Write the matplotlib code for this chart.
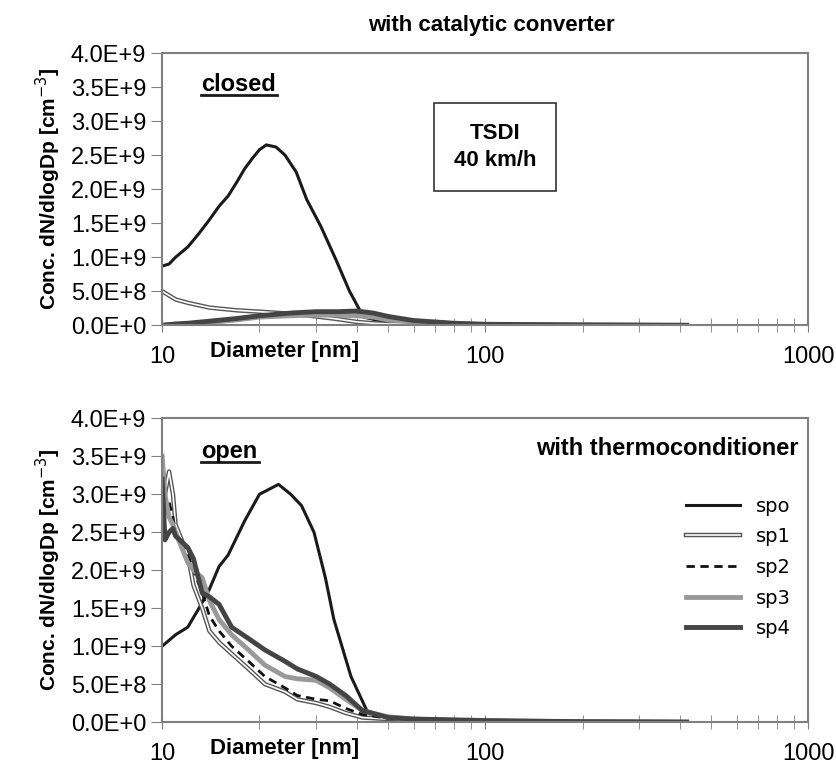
import matplotlib.pyplot as plt
from matplotlib.lines import Line2D

plt.rcParams["font.family"] = ["Liberation Sans", "DejaVu Sans"]

# ---- closed (top) ----
d_spo_top = [10, 10.5, 11, 12, 13, 14, 15, 16, 17, 18, 19, 20, 21, 22, 22.5, 24, 26, 28, 31, 34.6, 38, 42, 50, 70, 100, 200, 420]
v_spo_top = [0.87, 0.9, 1.0, 1.15, 1.35, 1.55, 1.75, 1.9, 2.1, 2.3, 2.45, 2.58, 2.65, 2.63, 2.62, 2.5, 2.25, 1.85, 1.45, 0.95, 0.5, 0.12, 0.04, 0.02, 0.01, 0.005, 0.0]
d_top = [10, 11, 12, 14, 17, 20, 25, 30, 35, 40, 45, 50, 60, 80, 100, 200, 420]
v_sp1_top = [0.5, 0.38, 0.33, 0.26, 0.22, 0.2, 0.17, 0.13, 0.09, 0.05, 0.03, 0.02, 0.015, 0.01, 0.008, 0.004, 0.0]
v_sp2_top = [0.0, 0.01, 0.03, 0.05, 0.1, 0.14, 0.16, 0.17, 0.17, 0.16, 0.13, 0.09, 0.05, 0.02, 0.01, 0.005, 0.0]
v_sp3_top = [0.0, 0.01, 0.02, 0.04, 0.08, 0.12, 0.14, 0.15, 0.15, 0.14, 0.12, 0.08, 0.05, 0.02, 0.01, 0.005, 0.0]
v_sp4_top = [0.0, 0.02, 0.03, 0.06, 0.1, 0.14, 0.18, 0.2, 0.2, 0.21, 0.18, 0.13, 0.07, 0.03, 0.015, 0.005, 0.0]

# ---- open (bottom) ----
d_spo_bot = [10, 11, 12, 13, 14, 15, 16, 18, 20, 22.9, 25, 27, 29.5, 32, 34, 38.4, 43, 50, 70, 100, 200, 420]
v_spo_bot = [1.0, 1.15, 1.25, 1.5, 1.75, 2.05, 2.2, 2.65, 3.0, 3.13, 3.0, 2.85, 2.5, 1.9, 1.35, 0.6, 0.15, 0.06, 0.03, 0.02, 0.01, 0.0]
d_bot = [10, 10.2, 10.5, 10.8, 11, 12, 12.5, 13.3, 14, 15, 16.4, 18.5, 20.8, 24, 26.2, 30, 33, 37, 41.7, 50, 60, 80, 100, 200, 420]
v_sp1_bot = [3.3, 3.0, 3.3, 3.0, 2.6, 2.2, 1.8, 1.5, 1.2, 1.05, 0.9, 0.7, 0.5, 0.4, 0.3, 0.25, 0.2, 0.12, 0.06, 0.04, 0.03, 0.02, 0.015, 0.005, 0.0]
v_sp2_bot = [3.2, 2.9, 2.9, 2.7, 2.5, 2.2, 2.0, 1.7, 1.4, 1.2, 1.0, 0.8, 0.6, 0.45, 0.35, 0.3, 0.28, 0.18, 0.1, 0.05, 0.03, 0.02, 0.015, 0.005, 0.0]
v_sp3_bot = [3.5, 3.0, 2.7, 2.6, 2.5, 2.1, 2.0, 1.9, 1.6, 1.35, 1.15, 0.95, 0.75, 0.6, 0.57, 0.55, 0.45, 0.3, 0.15, 0.07, 0.04, 0.02, 0.015, 0.005, 0.0]
v_sp4_bot = [3.2, 2.4, 2.5, 2.55, 2.45, 2.3, 2.15, 1.7, 1.65, 1.55, 1.25, 1.1, 0.95, 0.8, 0.7, 0.6, 0.5, 0.35, 0.15, 0.06, 0.04, 0.03, 0.02, 0.005, 0.0]

yticks = [0, 0.5, 1.0, 1.5, 2.0, 2.5, 3.0, 3.5, 4.0]
ytick_labels = ["0.0E+0", "5.0E+8", "1.0E+9", "1.5E+9", "2.0E+9", "2.5E+9", "3.0E+9", "3.5E+9", "4.0E+9"]

fig = plt.figure(figsize=(8.36, 7.69), dpi=100)
ax1 = fig.add_axes([0.194, 0.577, 0.773, 0.354])
ax2 = fig.add_axes([0.194, 0.061, 0.773, 0.395])

grey = "#808080"


def draw(ax, spo, sp1, sp2, sp3, sp4, label_y):
    ax.plot(*spo, color="#1a1a1a", lw=2.2)
    ax.plot(*sp1, color="#555555", lw=3.2)
    ax.plot(*sp1, color="white", lw=1.2)
    ax.plot(*sp2, color="#111111", lw=2, ls=(0, (3, 2)))
    ax.plot(*sp3, color="#999999", lw=3.5)
    ax.plot(*sp4, color="#444444", lw=3.5)
    ax.set_xscale("log")
    ax.set_xlim(10, 1000)
    ax.set_ylim(0, 4.0)
    ax.set_yticks(yticks)
    ax.set_yticklabels(ytick_labels, fontsize=17)
    ax.set_xticks([10, 100, 1000])
    ax.set_xticklabels(["10", "100", "1000"], fontsize=17)
    ax.tick_params(axis="x", which="both", direction="inout", length=10, color=grey, pad=10)
    ax.tick_params(axis="y", direction="out", length=8, color=grey)
    for s in ax.spines.values():
        s.set_color(grey)
        s.set_linewidth(1.5)
    ax.set_ylabel("Conc. dN/dlogDp [cm$^{-3}$]", fontsize=15, fontweight="bold", labelpad=6)
    ax.text(0.19, label_y, "Diameter [nm]", transform=ax.transAxes, fontsize=16,
            fontweight="bold", va="top", ha="center")


draw(ax1, (d_spo_top, v_spo_top), (d_top, v_sp1_top), (d_top, v_sp2_top),
     (d_top, v_sp3_top), (d_top, v_sp4_top), -0.058)
draw(ax2, (d_spo_bot, v_spo_bot), (d_bot, v_sp1_bot), (d_bot, v_sp2_bot),
     (d_bot, v_sp3_bot), (d_bot, v_sp4_bot), -0.052)

# labels
fig.text(0.588, 0.967, "with catalytic converter", ha="center", va="center", fontsize=16, fontweight="bold")
ax1.text(0.06, 0.86, "closed", transform=ax1.transAxes, fontsize=17, fontweight="bold")
ax1.plot([0.06, 0.178], [0.845, 0.845], transform=ax1.transAxes, color="#1a1a1a", lw=2)
ax1.text(0.515, 0.655, "TSDI\n40 km/h", transform=ax1.transAxes, fontsize=16, fontweight="bold",
         ha="center", va="center", linespacing=1.4,
         bbox=dict(boxstyle="square,pad=0.9", fc="white", ec="#333333", lw=1.2))
ax2.text(0.06, 0.87, "open", transform=ax2.transAxes, fontsize=17, fontweight="bold")
ax2.plot([0.06, 0.15], [0.855, 0.855], transform=ax2.transAxes, color="#1a1a1a", lw=2)
ax2.text(0.985, 0.88, "with thermoconditioner", transform=ax2.transAxes, fontsize=17,
         fontweight="bold", ha="right")

h_spo = Line2D([], [], color="#1a1a1a", lw=2.2)
h_sp1 = (Line2D([], [], color="#555555", lw=3.2), Line2D([], [], color="white", lw=1.2))
h_sp2 = Line2D([], [], color="#111111", lw=2, ls=(0, (3, 2)))
h_sp3 = Line2D([], [], color="#999999", lw=3.5)
h_sp4 = Line2D([], [], color="#444444", lw=3.5)
ax2.legend([h_spo, h_sp1, h_sp2, h_sp3, h_sp4], ["spo", "sp1", "sp2", "sp3", "sp4"],
           loc="upper right", bbox_to_anchor=(1.0, 0.8), frameon=False,
           handlelength=2.8, labelspacing=0.6, prop={"family": "DejaVu Sans", "size": 14})

fig.savefig("out.png", dpi=100)
